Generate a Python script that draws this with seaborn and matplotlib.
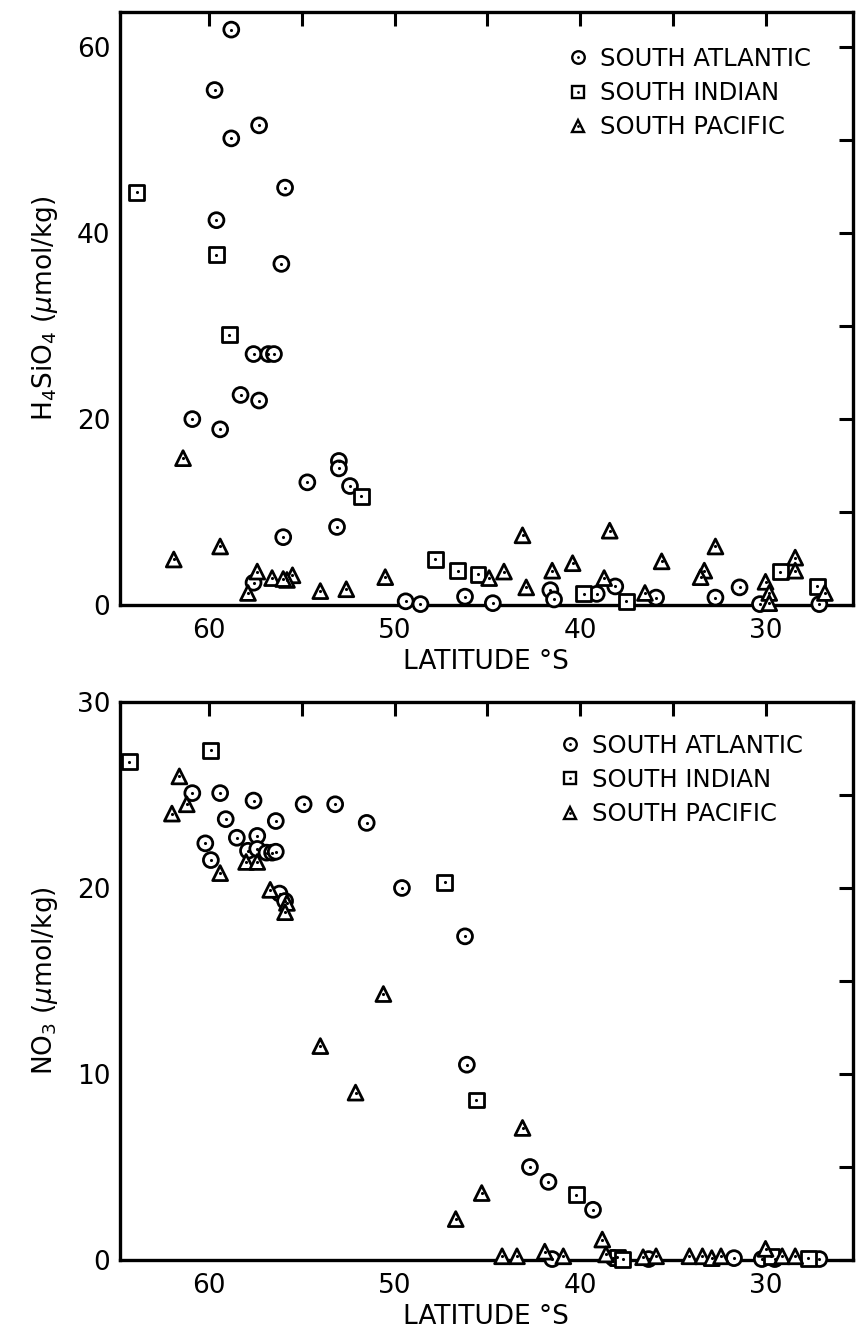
import matplotlib
matplotlib.use('Agg')
import matplotlib.pyplot as plt
import seaborn as sns
import pandas as pd
from matplotlib.lines import Line2D
from matplotlib.legend_handler import HandlerTuple
from matplotlib.ticker import MultipleLocator

OCEANS = ['SOUTH ATLANTIC', 'SOUTH INDIAN', 'SOUTH PACIFIC']

# ---- Top panel: H4SiO4 (umol/kg) ----
si_atl_lat = [58.8, 59.7, 57.3, 58.8, 55.9, 59.6, 56.1, 57.6, 56.8, 56.5, 58.3, 57.3,
              60.9, 59.4, 53.0, 53.0, 54.7, 52.4, 53.1, 56.0, 57.6, 49.4, 48.6, 46.2,
              44.7, 41.6, 41.4, 39.1, 38.1, 35.9, 32.7, 31.4, 30.3, 27.1]
si_atl_val = [61.9, 55.4, 51.6, 50.2, 44.9, 41.4, 36.7, 27.0, 27.0, 27.0, 22.6, 22.0,
              20.0, 18.9, 15.5, 14.7, 13.2, 12.8, 8.4, 7.3, 2.4, 0.4, 0.1, 0.9,
              0.2, 1.6, 0.6, 1.2, 2.0, 0.8, 0.8, 1.9, 0.1, 0.1]
si_ind_lat = [63.9, 59.6, 58.9, 51.8, 47.8, 46.6, 45.5, 39.8, 37.5, 29.2, 27.2]
si_ind_val = [44.4, 37.7, 29.1, 11.7, 4.9, 3.7, 3.3, 1.2, 0.4, 3.6, 2.0]
si_pac_lat = [61.4, 59.4, 61.9, 57.4, 56.6, 55.5, 55.8, 56.0, 57.9, 54.0, 52.6, 50.5,
              44.9, 44.1, 43.1, 42.9, 41.5, 40.4, 38.7, 38.4, 36.5, 35.6, 33.3, 33.5,
              32.7, 30.0, 29.8, 29.8, 28.4, 28.4, 26.8]
si_pac_val = [15.8, 6.3, 4.9, 3.6, 2.9, 3.2, 2.7, 2.8, 1.3, 1.5, 1.7, 3.0,
              2.9, 3.6, 7.5, 1.9, 3.7, 4.5, 2.9, 8.0, 1.3, 4.7, 3.7, 3.0,
              6.3, 2.5, 1.3, 0.2, 5.1, 3.7, 1.3]

# ---- Bottom panel: NO3 (umol/kg) ----
no_atl_lat = [60.9, 59.4, 57.6, 54.9, 53.2, 51.5, 59.1, 56.4, 58.5, 57.4, 60.2, 59.9,
              57.9, 57.4, 56.9, 56.6, 56.4, 56.2, 55.9, 49.6, 46.2, 46.1, 42.7, 41.7,
              39.3, 41.5, 38.2, 36.3, 31.7, 30.2, 29.5, 27.1]
no_atl_val = [25.1, 25.1, 24.7, 24.5, 24.5, 23.5, 23.7, 23.6, 22.7, 22.8, 22.4, 21.5,
              22.0, 22.1, 21.9, 21.9, 21.95, 19.7, 19.3, 20.0, 17.4, 10.5, 5.0, 4.2,
              2.7, 0.05, 0.1, 0.05, 0.1, 0.05, 0.05, 0.05]
no_ind_lat = [64.3, 59.9, 47.3, 45.6, 40.2, 38.0, 37.7, 29.7, 27.7]
no_ind_val = [26.8, 27.4, 20.3, 8.6, 3.5, 0.15, 0.05, 0.2, 0.1]
no_pac_lat = [61.6, 61.2, 62.0, 58.0, 57.4, 59.4, 56.7, 55.8, 55.9, 50.6, 54.0, 52.1,
              43.1, 45.3, 46.7, 44.2, 43.4, 41.9, 40.9, 38.8, 38.6, 36.6, 35.9, 34.1,
              33.4, 32.9, 32.4, 30.0, 29.1, 28.4]
no_pac_val = [26.0, 24.5, 24.0, 21.4, 21.4, 20.8, 19.9, 19.2, 18.7, 14.3, 11.5, 9.0,
              7.1, 3.6, 2.2, 0.2, 0.2, 0.45, 0.2, 1.1, 0.3, 0.15, 0.2, 0.2,
              0.2, 0.1, 0.2, 0.6, 0.2, 0.2]


def frame(lat_lists, val_lists):
    rows = []
    for ocean, lats, vals in zip(OCEANS, lat_lists, val_lists):
        for a, b in zip(lats, vals):
            rows.append((ocean, a, b))
    return pd.DataFrame(rows, columns=['ocean', 'lat', 'val'])


si_df = frame([si_atl_lat, si_ind_lat, si_pac_lat], [si_atl_val, si_ind_val, si_pac_val])
no_df = frame([no_atl_lat, no_ind_lat, no_pac_lat], [no_atl_val, no_ind_val, no_pac_val])

sns.set_style('white')
plt.rcParams['font.family'] = ['DejaVu Sans']
plt.rcParams['mathtext.fontset'] = 'dejavusans'
for key in ['text.color', 'axes.labelcolor', 'xtick.color', 'ytick.color',
            'xtick.labelcolor', 'ytick.labelcolor', 'axes.edgecolor']:
    plt.rcParams[key] = 'black'

fig = plt.figure(figsize=(8.57, 13.28), dpi=100)
ax1 = fig.add_axes([0.140, 0.5444, 0.855, 0.4466])
ax2 = fig.add_axes([0.140, 0.0512, 0.855, 0.4202])

MARKERS = {'SOUTH ATLANTIC': 'o', 'SOUTH INDIAN': 's', 'SOUTH PACIFIC': '^'}


def draw(ax, df, ylim, ymaj, ymin, ylabel, leg_xy):
    sns.scatterplot(data=df, x='lat', y='val', style='ocean', style_order=OCEANS,
                    markers=MARKERS, s=115, color='white', edgecolor='black',
                    linewidth=2.0, ax=ax, legend=False, clip_on=False, zorder=3)
    sns.scatterplot(data=df, x='lat', y='val', marker='o', s=5, color='black',
                    linewidth=0, ax=ax, legend=False, clip_on=False, zorder=4)
    ax.set_xlim(64.8, 25.3)
    ax.set_ylim(*ylim)
    ax.xaxis.set_major_locator(MultipleLocator(10))
    ax.xaxis.set_minor_locator(MultipleLocator(5))
    ax.yaxis.set_major_locator(MultipleLocator(ymaj))
    ax.yaxis.set_minor_locator(MultipleLocator(ymin))
    ax.tick_params(which='both', direction='in', top=True, right=True,
                   length=10, width=2.2, labelsize=19, pad=7, color='black',
                   labelcolor='black')
    ax.tick_params(axis='x', pad=9)
    for sp in ax.spines.values():
        sp.set_linewidth(2.4)
        sp.set_color('black')
    ax.set_xlabel('LATITUDE °S', fontsize=19, labelpad=4, color='black')
    ax.set_ylabel(ylabel, fontsize=19, labelpad=12, color='black')
    handles = [(Line2D([], [], marker=MARKERS[o], ls='none', mfc='white', mec='black',
                       mew=1.7, ms=9),
                Line2D([], [], marker='o', ls='none', mfc='black', mec='none', ms=2))
               for o in OCEANS]
    leg = ax.legend(handles, OCEANS, handler_map={tuple: HandlerTuple(ndivide=1, pad=0)},
                    loc='upper left', bbox_to_anchor=leg_xy, frameon=False, fontsize=17.5,
                    handlelength=0.8, handletextpad=0.5, labelspacing=0.42,
                    borderpad=0, borderaxespad=0)
    for t in leg.get_texts():
        t.set_color('black')


draw(ax1, si_df, (0, 63.8), 20, 10, r'H$_4$SiO$_4$ ($\mu$mol/kg)', (0.612, 0.941))
draw(ax2, no_df, (0, 30), 10, 5, r'NO$_3$ ($\mu$mol/kg)', (0.601, 0.943))

fig.savefig('out.png', dpi=100)
